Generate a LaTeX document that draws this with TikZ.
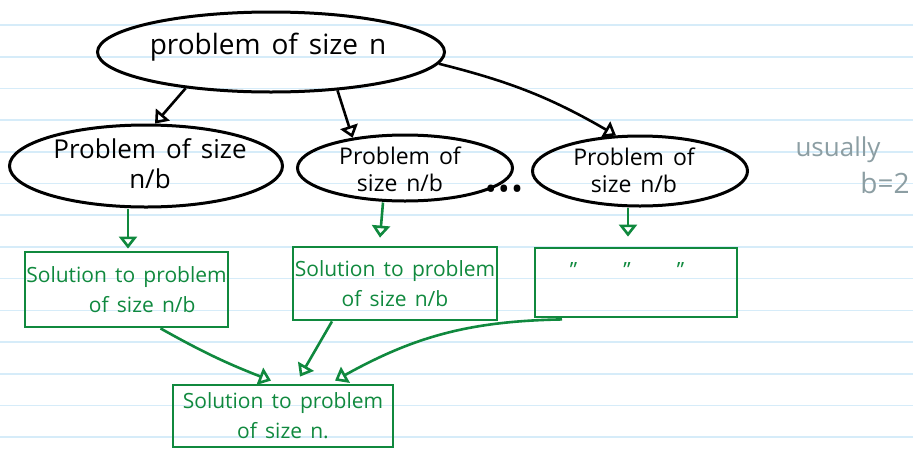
\documentclass[tikz,border=0pt]{standalone}
\usepackage{fontspec}
\setmainfont{Open Sans}[WordSpace=1.5]
\usepackage{tikz}
\usetikzlibrary{shapes,arrows.meta,positioning,calc}

\definecolor{inkgreen}{RGB}{16,137,62}
\definecolor{inkgray}{RGB}{140,158,163}
\definecolor{ruleblue}{RGB}{214,236,249}

\tikzset{
  ruleline/.style={draw=ruleblue, line width=0.8pt},
  probell/.style={ellipse, draw=black, line width=1.5pt, inner sep=0pt},
  probtxt/.style={align=center, font=\fontsize{13}{15}\selectfont},
  soln/.style={rectangle, draw=inkgreen, line width=1.4pt, inner sep=0pt,
    text=inkgreen, align=center, font=\fontsize{10.5}{15}\selectfont},
  splitarrow/.style={-{Triangle[open,length=6pt,width=9pt]}, line width=1.3pt},
  mergearrow/.style={-{Triangle[open,length=6pt,width=9pt]}, line width=1.3pt, draw=inkgreen},
}

\begin{document}
\begin{tikzpicture}[x=0.5pt, y=-0.5pt]
            \useasboundingbox (0,0) rectangle (913,450);
            % ruled paper
            \foreach \k in {0,...,13}
                \draw[ruleline] (0,{25+31.7*\k}) -- (913,{25+31.7*\k});

            % the problem and its sub-problems
            \node[probell, minimum width=173.5pt, minimum height=40pt] (top) at (271,52) {};
            \node[probtxt, font=\fontsize{14}{16}\selectfont] (toptxt) at (268,47) {problem of size n};

            \node[probell, minimum width=136.5pt, minimum height=41pt] (pA) at (146,166) {};
            \node[probtxt] (pAtxt) at (150,164) {Problem of size\\n/b};

            \node[probell, minimum width=107.5pt, minimum height=33pt] (pB) at (405,168) {};
            \node[probtxt, font=\fontsize{11.5}{13.5}\selectfont] (pBtxt) at (400,169) {Problem of\\size n/b};

            \node[probell, minimum width=107.5pt, minimum height=35pt] (pC) at (640,171) {};
            \node[probtxt, font=\fontsize{11.5}{13.5}\selectfont] (pCtxt) at (634,170) {Problem of\\size n/b};

            \node[font=\fontsize{12}{12}\selectfont\bfseries] (dots) at (504,191) {\textbullet\,\textbullet\,\textbullet};

            \node[text=inkgray, font=\fontsize{13}{15}\selectfont] (usually) at (838,150) {usually};
            \node[text=inkgray, font=\fontsize{14}{15}\selectfont] (bval) at (885,183) {b=2};

            % solutions
            \node[soln, minimum width=101.5pt, minimum height=37.5pt] (sA) at (126.5,289.5) {Solution to problem\\\hspace*{1.5em}of size n/b};
            \node[soln, minimum width=102pt, minimum height=36.5pt] (sB) at (395,283.5) {Solution to problem\\of size n/b};
            \node[soln, minimum width=101pt, minimum height=34.5pt] (sC) at (636,282.5) {};
            \node[text=inkgreen, font=\fontsize{10.5}{12}\selectfont] (ditto) at (627,270) {"\hspace{2.2em}"\hspace{2.2em}"};
            \node[soln, minimum width=110pt, minimum height=31pt] (sN) at (283,416) {Solution to problem\\of size n.};

            % split
            \draw[splitarrow] (top.-157) -- (pA.78);
            \draw[splitarrow] (top.-30) -- (pB.150);
            \draw[splitarrow] (top.-4) to[bend left=8] (pC.124);

            % solve
            \draw[mergearrow] ($(pA.south)+(-18,0)$) -- ($(sA.north)+(1.5,-2)$);
            \draw[mergearrow] ($(pB.south)+(-22,0)$) -- ($(sB.north)+(-15,-8)$);
            \draw[mergearrow] ($(pC.south)+(-12,0)$) -- ($(sC.north)+(-8,-10)$);

            % combine
            \draw[mergearrow] ($(sA.south)+(34,0)$) to[bend right=4] ($(sN.north)+(-12,-3)$);
            \draw[mergearrow] ($(sB.south)+(-63,0)$) -- ($(sN.north)+(17,-7)$);
            \draw[mergearrow] ($(sC.south)+(-74,1)$) to[bend right=14] ($(sN.north)+(52,-3)$);
        \end{tikzpicture}
\end{document}
